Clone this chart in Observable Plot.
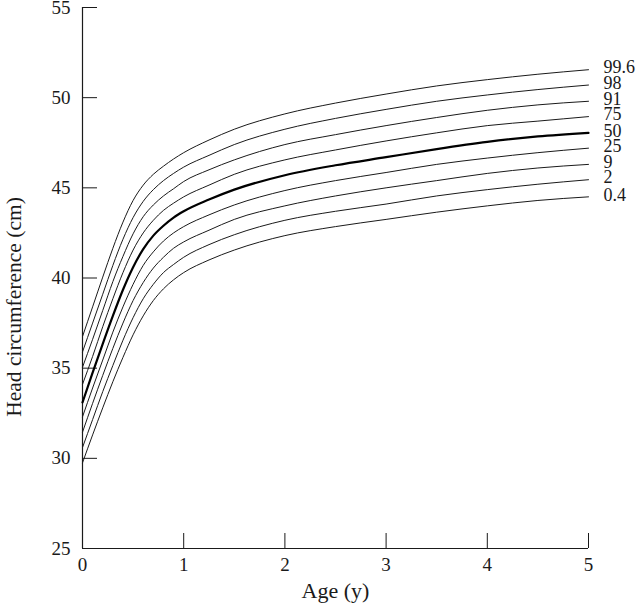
<!DOCTYPE html>
<html>
<head>
<meta charset="utf-8">
<script src="https://cdn.jsdelivr.net/npm/d3@7"></script>
<script src="https://cdn.jsdelivr.net/npm/@observablehq/plot@0.6"></script>
<style>
  html, body { margin: 0; padding: 0; background: #fff; }
  #chart { width: 640px; height: 606px; }
</style>
</head>
<body>
<div id="chart"></div>
<script>
// Age in years
const ages = [0, 0.1, 0.2, 0.3, 0.4, 0.5, 0.6, 0.7, 0.8, 0.9, 1, 1.25, 1.5, 2, 2.5, 3, 3.5, 4, 4.5, 5];

// Head circumference (cm) per centile
const c996 = [36.75, 38.4, 40.05, 41.65, 43.1, 44.3, 45.15, 45.75, 46.2, 46.6, 46.95, 47.65, 48.25, 49.1, 49.7, 50.2, 50.65, 51.0, 51.3, 51.55];
const c98  = [35.9, 37.5, 39.1, 40.7, 42.15, 43.35, 44.25, 44.9, 45.4, 45.8, 46.15, 46.8, 47.4, 48.25, 48.85, 49.35, 49.8, 50.15, 50.45, 50.7];
const c91  = [35.05, 36.6, 38.2, 39.8, 41.2, 42.45, 43.4, 44.05, 44.55, 44.95, 45.35, 46.0, 46.55, 47.4, 47.95, 48.45, 48.9, 49.3, 49.6, 49.8];
const c75  = [34.1, 35.65, 37.3, 38.85, 40.3, 41.55, 42.5, 43.2, 43.75, 44.15, 44.5, 45.15, 45.75, 46.55, 47.1, 47.6, 48.05, 48.45, 48.7, 48.95];
const c50  = [33.1, 34.75, 36.35, 37.9, 39.35, 40.6, 41.6, 42.35, 42.9, 43.35, 43.7, 44.35, 44.9, 45.7, 46.25, 46.7, 47.15, 47.55, 47.85, 48.05];
const c25  = [32.3, 33.9, 35.45, 37.0, 38.4, 39.65, 40.7, 41.45, 42.05, 42.5, 42.85, 43.5, 44.05, 44.85, 45.4, 45.85, 46.3, 46.65, 46.95, 47.2];
const c9   = [31.45, 33.05, 34.6, 36.1, 37.5, 38.75, 39.75, 40.55, 41.15, 41.65, 42.0, 42.65, 43.25, 44.0, 44.55, 45.0, 45.4, 45.8, 46.1, 46.3];
const c2   = [30.6, 32.15, 33.7, 35.15, 36.55, 37.8, 38.85, 39.65, 40.3, 40.75, 41.15, 41.85, 42.4, 43.2, 43.7, 44.1, 44.55, 44.9, 45.2, 45.45];
const c04  = [29.75, 31.3, 32.8, 34.25, 35.6, 36.85, 37.9, 38.75, 39.4, 39.9, 40.3, 41.0, 41.55, 42.35, 42.85, 43.25, 43.65, 44.0, 44.3, 44.5];

const centileNames = ["99.6", "98", "91", "75", "50", "25", "9", "2", "0.4"];
const centileSeries = [c996, c98, c91, c75, c50, c25, c9, c2, c04];

const xTicks = [0, 1, 2, 3, 4, 5];
const yTicks = [25, 30, 35, 40, 45, 50, 55];

// Tidy table built from the arrays above
const rows = [];
centileNames.forEach((name, i) => {
  centileSeries[i].forEach((v, j) => rows.push({centile: name, age: ages[j], hc: v}));
});
const endRows = centileNames.map((name, i) => ({centile: name, age: ages[ages.length - 1], hc: centileSeries[i][ages.length - 1]}));

const font = "'Liberation Serif', 'DejaVu Serif', serif";
const ink = "#1a1a1a";

const chart = Plot.plot({
  width: 640,
  height: 606,
  marginLeft: 82,
  marginRight: 52,
  marginTop: 7,
  marginBottom: 58,
  style: {fontFamily: font, fontSize: "19px", background: "#fff", color: ink, overflow: "visible"},
  x: {domain: [0, 5], ticks: xTicks, label: null},
  y: {domain: [25, 55], ticks: yTicks, label: null},
  marks: [
    Plot.ruleX([0], {stroke: ink, strokeWidth: 1.2}),
    Plot.ruleY([25], {stroke: ink, strokeWidth: 1.2}),
    Plot.axisX({ticks: xTicks, tickSize: 15, dy: -15, tickPadding: 9, tickFormat: d => String(d), label: null, stroke: ink, fill: ink}),
    Plot.axisY({ticks: yTicks, tickSize: 15, dx: 15, tickPadding: 12, tickFormat: d => String(d), label: null, stroke: ink, fill: ink}),
    Plot.line(rows.filter(d => d.centile !== "50"), {x: "age", y: "hc", z: "centile", stroke: ink, strokeWidth: 1, curve: "monotone-x"}),
    Plot.line(rows.filter(d => d.centile === "50"), {x: "age", y: "hc", stroke: "#000", strokeWidth: 2.2, curve: "monotone-x"}),
    Plot.text(endRows, {x: "age", y: "hc", text: "centile", dx: 15, dy: -2, textAnchor: "start", fill: ink, fontSize: 18}),
    Plot.text(["Age (y)"], {frameAnchor: "bottom", dy: 42, fill: ink, fontSize: 22, textAnchor: "middle", lineAnchor: "middle"}),
    Plot.text(["Head circumference (cm)"], {frameAnchor: "left", dx: -68, dy: 29, rotate: -90, fill: ink, fontSize: 21.5, textAnchor: "middle", lineAnchor: "middle"})
  ]
});
document.getElementById("chart").appendChild(chart);
</script>
</body>
</html>
